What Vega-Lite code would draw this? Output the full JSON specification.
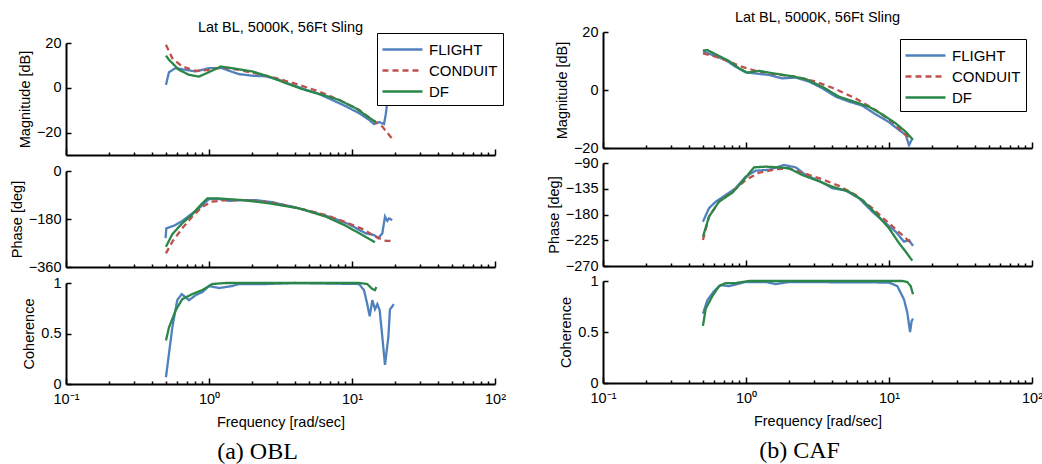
{
"$schema":"https://vega.github.io/schema/vega-lite/v6.json",
"autosize":{"type":"pad"},
"padding":{"left":9,"top":0,"right":0,"bottom":0},
"background":"white",
"config":{
 "view":{"stroke":null},
 "font":"Liberation Sans",
 "axis":{"domainColor":"black","domainWidth":2,"tickColor":"black","tickWidth":1.5,"grid":false,"labelFont":"Liberation Sans","labelFontSize":14.5,"labelColor":"black","titleFont":"Liberation Sans","titleFontSize":14.5,"titleFontWeight":"normal","titleColor":"black","labelPadding":4,"titlePadding":6,"labelFlush":false,"labelOverlap":false},
 "axisY":{"tickSize":-5,"labelPadding":10,"titlePadding":4},
 "line":{"strokeWidth":2.3},
 "legend":{"orient":"none","title":null,"symbolType":"M-2,0H2","symbolSize":400,"symbolOffset":9,"symbolStrokeWidth":2.5,"labelFontSize":15,"labelFont":"Liberation Sans","labelColor":"black","labelOffset":15,"padding":5,"rowPadding":1,"strokeColor":"black","fillColor":"white"}
},
"datasets":{
"am":[
{"s":"FLIGHT","f":0.5,"v":1.3},{"s":"FLIGHT","f":0.525,"v":7.0},{"s":"FLIGHT","f":0.585,"v":8.8},{"s":"FLIGHT","f":0.687,"v":8.0},{"s":"FLIGHT","f":0.807,"v":7.3},{"s":"FLIGHT","f":1.0,"v":8.8},{"s":"FLIGHT","f":1.233,"v":8.8},{"s":"FLIGHT","f":1.38,"v":7.6},{"s":"FLIGHT","f":1.621,"v":6.1},{"s":"FLIGHT","f":2.0,"v":5.4},{"s":"FLIGHT","f":2.504,"v":5.1},{"s":"FLIGHT","f":3.087,"v":3.6},{"s":"FLIGHT","f":3.806,"v":1.3},{"s":"FLIGHT","f":4.77,"v":-0.9},{"s":"FLIGHT","f":5.88,"v":-2.8},{"s":"FLIGHT","f":7.25,"v":-5.4},{"s":"FLIGHT","f":9.08,"v":-8.3},{"s":"FLIGHT","f":11.19,"v":-11.3},{"s":"FLIGHT","f":13.15,"v":-14.3},{"s":"FLIGHT","f":14.25,"v":-16.2},{"s":"FLIGHT","f":15.45,"v":-15.3},{"s":"FLIGHT","f":16.74,"v":-16.2},{"s":"FLIGHT","f":17.21,"v":-12},{"s":"FLIGHT","f":17.66,"v":-6.1},{"s":"FLIGHT","f":18.74,"v":2},
{"s":"CONDUIT","f":0.5,"v":19.2},{"s":"CONDUIT","f":0.554,"v":13.2},{"s":"CONDUIT","f":0.65,"v":9.5},{"s":"CONDUIT","f":0.807,"v":7.6},{"s":"CONDUIT","f":1.0,"v":8.0},{"s":"CONDUIT","f":1.233,"v":9.1},{"s":"CONDUIT","f":1.621,"v":8.0},{"s":"CONDUIT","f":2.237,"v":6.1},{"s":"CONDUIT","f":3.087,"v":4.0},{"s":"CONDUIT","f":4.26,"v":1.3},{"s":"CONDUIT","f":5.88,"v":-1.6},{"s":"CONDUIT","f":8.11,"v":-5.4},{"s":"CONDUIT","f":11.19,"v":-9.8},{"s":"CONDUIT","f":13.87,"v":-14.3},{"s":"CONDUIT","f":16.29,"v":-17.3},{"s":"CONDUIT","f":19.67,"v":-23.7},
{"s":"DF","f":0.5,"v":14.4},{"s":"DF","f":0.525,"v":12.5},{"s":"DF","f":0.617,"v":8.0},{"s":"DF","f":0.725,"v":5.8},{"s":"DF","f":0.851,"v":5.0},{"s":"DF","f":1.0,"v":7.0},{"s":"DF","f":1.207,"v":9.5},{"s":"DF","f":1.537,"v":8.5},{"s":"DF","f":2.01,"v":7.3},{"s":"DF","f":2.628,"v":5.0},{"s":"DF","f":3.44,"v":2.1},{"s":"DF","f":4.49,"v":-0.6},{"s":"DF","f":6.2,"v":-3.1},{"s":"DF","f":8.11,"v":-5.4},{"s":"DF","f":10.61,"v":-9.1},{"s":"DF","f":13.15,"v":-13.3},{"s":"DF","f":14.64,"v":-15.3}
],
"ap":[
{"s":"FLIGHT","f":0.497,"v":-252},{"s":"FLIGHT","f":0.503,"v":-215},{"s":"FLIGHT","f":0.569,"v":-205},{"s":"FLIGHT","f":0.65,"v":-187.5},{"s":"FLIGHT","f":0.764,"v":-159},{"s":"FLIGHT","f":0.875,"v":-134},{"s":"FLIGHT","f":1.0,"v":-105},{"s":"FLIGHT","f":1.175,"v":-105},{"s":"FLIGHT","f":1.38,"v":-112},{"s":"FLIGHT","f":1.71,"v":-109},{"s":"FLIGHT","f":2.121,"v":-109},{"s":"FLIGHT","f":2.772,"v":-117},{"s":"FLIGHT","f":3.83,"v":-134},{"s":"FLIGHT","f":5.28,"v":-153},{"s":"FLIGHT","f":7.28,"v":-175},{"s":"FLIGHT","f":9.53,"v":-200},{"s":"FLIGHT","f":12.47,"v":-234},{"s":"FLIGHT","f":14.25,"v":-240},{"s":"FLIGHT","f":15.27,"v":-252},{"s":"FLIGHT","f":16.29,"v":-234},{"s":"FLIGHT","f":17.01,"v":-171},{"s":"FLIGHT","f":17.66,"v":-187},{"s":"FLIGHT","f":18.15,"v":-178},{"s":"FLIGHT","f":19.13,"v":-184},
{"s":"CONDUIT","f":0.5,"v":-309},{"s":"CONDUIT","f":0.554,"v":-265},{"s":"CONDUIT","f":0.65,"v":-215},{"s":"CONDUIT","f":0.764,"v":-171},{"s":"CONDUIT","f":0.898,"v":-134},{"s":"CONDUIT","f":1.055,"v":-115},{"s":"CONDUIT","f":1.309,"v":-109},{"s":"CONDUIT","f":1.805,"v":-109},{"s":"CONDUIT","f":2.628,"v":-117},{"s":"CONDUIT","f":4.26,"v":-140},{"s":"CONDUIT","f":6.55,"v":-165},{"s":"CONDUIT","f":9.03,"v":-192},{"s":"CONDUIT","f":11.8,"v":-217},{"s":"CONDUIT","f":14.64,"v":-246},{"s":"CONDUIT","f":17.21,"v":-262},{"s":"CONDUIT","f":19.67,"v":-262},
{"s":"DF","f":0.5,"v":-284},{"s":"DF","f":0.554,"v":-237},{"s":"DF","f":0.65,"v":-196},{"s":"DF","f":0.764,"v":-163},{"s":"DF","f":0.875,"v":-127.5},{"s":"DF","f":0.973,"v":-103},{"s":"DF","f":1.175,"v":-103},{"s":"DF","f":1.71,"v":-109},{"s":"DF","f":2.628,"v":-121},{"s":"DF","f":4.26,"v":-140},{"s":"DF","f":6.55,"v":-171},{"s":"DF","f":9.03,"v":-205},{"s":"DF","f":11.8,"v":-240},{"s":"DF","f":14.48,"v":-267}
],
"ac":[
{"s":"FLIGHT","f":0.5,"v":0.067},{"s":"FLIGHT","f":0.554,"v":0.56},{"s":"FLIGHT","f":0.6,"v":0.83},{"s":"FLIGHT","f":0.644,"v":0.89},{"s":"FLIGHT","f":0.725,"v":0.83},{"s":"FLIGHT","f":0.807,"v":0.88},{"s":"FLIGHT","f":0.898,"v":0.91},{"s":"FLIGHT","f":1.0,"v":0.97},{"s":"FLIGHT","f":1.175,"v":0.95},{"s":"FLIGHT","f":1.455,"v":0.97},{"s":"FLIGHT","f":1.62,"v":0.99},{"s":"FLIGHT","f":2.5,"v":0.99},{"s":"FLIGHT","f":4.0,"v":1.0},{"s":"FLIGHT","f":11.19,"v":0.99},{"s":"FLIGHT","f":12.13,"v":0.93},{"s":"FLIGHT","f":12.79,"v":0.79},{"s":"FLIGHT","f":13.3,"v":0.67},{"s":"FLIGHT","f":13.87,"v":0.83},{"s":"FLIGHT","f":14.48,"v":0.74},{"s":"FLIGHT","f":15.03,"v":0.79},{"s":"FLIGHT","f":15.62,"v":0.73},{"s":"FLIGHT","f":16.13,"v":0.53},{"s":"FLIGHT","f":17.01,"v":0.19},{"s":"FLIGHT","f":17.94,"v":0.46},{"s":"FLIGHT","f":18.44,"v":0.74},{"s":"FLIGHT","f":18.95,"v":0.76},{"s":"FLIGHT","f":19.57,"v":0.79},
{"s":"DF","f":0.5,"v":0.43},{"s":"DF","f":0.525,"v":0.56},{"s":"DF","f":0.585,"v":0.73},{"s":"DF","f":0.65,"v":0.84},{"s":"DF","f":0.764,"v":0.89},{"s":"DF","f":0.898,"v":0.93},{"s":"DF","f":1.055,"v":0.99},{"s":"DF","f":1.3,"v":1.0},{"s":"DF","f":11.19,"v":1.0},{"s":"DF","f":12.79,"v":0.99},{"s":"DF","f":13.87,"v":0.94},{"s":"DF","f":14.48,"v":0.93},{"s":"DF","f":14.79,"v":0.96}
],
"bm":[
{"s":"FLIGHT","f":0.5,"v":13.4},{"s":"FLIGHT","f":0.581,"v":12.1},{"s":"FLIGHT","f":0.721,"v":10.3},{"s":"FLIGHT","f":0.847,"v":8.0},{"s":"FLIGHT","f":0.995,"v":6.1},{"s":"FLIGHT","f":1.169,"v":5.7},{"s":"FLIGHT","f":1.448,"v":5.2},{"s":"FLIGHT","f":1.794,"v":4.0},{"s":"FLIGHT","f":2.227,"v":4.3},{"s":"FLIGHT","f":2.758,"v":2.9},{"s":"FLIGHT","f":3.417,"v":0.6},{"s":"FLIGHT","f":4.24,"v":-2.3},{"s":"FLIGHT","f":5.252,"v":-4.0},{"s":"FLIGHT","f":6.506,"v":-5.4},{"s":"FLIGHT","f":8.072,"v":-8.4},{"s":"FLIGHT","f":10.0,"v":-11.1},{"s":"FLIGHT","f":11.75,"v":-13.8},{"s":"FLIGHT","f":13.09,"v":-15.5},{"s":"FLIGHT","f":13.8,"v":-19.0},{"s":"FLIGHT","f":14.41,"v":-17.2},
{"s":"CONDUIT","f":0.5,"v":12.6},{"s":"CONDUIT","f":0.614,"v":11.5},{"s":"CONDUIT","f":0.761,"v":9.8},{"s":"CONDUIT","f":0.942,"v":8.0},{"s":"CONDUIT","f":1.169,"v":6.6},{"s":"CONDUIT","f":1.613,"v":5.4},{"s":"CONDUIT","f":2.227,"v":4.6},{"s":"CONDUIT","f":3.072,"v":2.9},{"s":"CONDUIT","f":4.24,"v":0.3},{"s":"CONDUIT","f":5.849,"v":-2.9},{"s":"CONDUIT","f":8.072,"v":-6.9},{"s":"CONDUIT","f":10.55,"v":-11.1},{"s":"CONDUIT","f":13.09,"v":-15.5},{"s":"CONDUIT","f":14.41,"v":-16.9},
{"s":"DF","f":0.5,"v":13.6},{"s":"DF","f":0.536,"v":13.8},{"s":"DF","f":0.614,"v":12.3},{"s":"DF","f":0.761,"v":10.0},{"s":"DF","f":0.893,"v":7.5},{"s":"DF","f":1.021,"v":6.0},{"s":"DF","f":1.233,"v":6.6},{"s":"DF","f":1.527,"v":5.8},{"s":"DF","f":1.999,"v":4.9},{"s":"DF","f":2.616,"v":3.8},{"s":"DF","f":3.417,"v":1.1},{"s":"DF","f":4.471,"v":-2.3},{"s":"DF","f":5.849,"v":-4.2},{"s":"DF","f":7.246,"v":-5.8},{"s":"DF","f":8.977,"v":-8.4},{"s":"DF","f":11.14,"v":-11.5},{"s":"DF","f":13.09,"v":-14.4},{"s":"DF","f":14.72,"v":-17.2}
],
"bp":[
{"s":"FLIGHT","f":0.5,"v":-192.6},{"s":"FLIGHT","f":0.551,"v":-169},{"s":"FLIGHT","f":0.614,"v":-157.6},{"s":"FLIGHT","f":0.721,"v":-146},{"s":"FLIGHT","f":0.847,"v":-134},{"s":"FLIGHT","f":0.995,"v":-114},{"s":"FLIGHT","f":1.169,"v":-103.4},{"s":"FLIGHT","f":1.448,"v":-102},{"s":"FLIGHT","f":1.844,"v":-93.5},{"s":"FLIGHT","f":2.227,"v":-97.6},{"s":"FLIGHT","f":2.616,"v":-111},{"s":"FLIGHT","f":3.24,"v":-121},{"s":"FLIGHT","f":4.013,"v":-134},{"s":"FLIGHT","f":4.98,"v":-138},{"s":"FLIGHT","f":6.169,"v":-151.7},{"s":"FLIGHT","f":7.642,"v":-175},{"s":"FLIGHT","f":9.482,"v":-195.4},{"s":"FLIGHT","f":11.14,"v":-210},{"s":"FLIGHT","f":12.73,"v":-227.5},{"s":"FLIGHT","f":13.8,"v":-224.6},{"s":"FLIGHT","f":14.72,"v":-235},
{"s":"CONDUIT","f":0.5,"v":-224.6},{"s":"CONDUIT","f":0.551,"v":-183.8},{"s":"CONDUIT","f":0.647,"v":-157.6},{"s":"CONDUIT","f":0.802,"v":-140},{"s":"CONDUIT","f":0.995,"v":-119.7},{"s":"CONDUIT","f":1.233,"v":-107},{"s":"CONDUIT","f":1.613,"v":-101},{"s":"CONDUIT","f":1.999,"v":-99.3},{"s":"CONDUIT","f":2.616,"v":-109},{"s":"CONDUIT","f":3.417,"v":-118.5},{"s":"CONDUIT","f":4.471,"v":-130},{"s":"CONDUIT","f":5.849,"v":-146},{"s":"CONDUIT","f":7.642,"v":-169},{"s":"CONDUIT","f":10.0,"v":-195.4},{"s":"CONDUIT","f":12.39,"v":-215.8},{"s":"CONDUIT","f":14.72,"v":-233.3},
{"s":"DF","f":0.5,"v":-218.8},{"s":"DF","f":0.551,"v":-183.8},{"s":"DF","f":0.647,"v":-157.6},{"s":"DF","f":0.802,"v":-142},{"s":"DF","f":0.942,"v":-122.7},{"s":"DF","f":1.137,"v":-97.6},{"s":"DF","f":1.373,"v":-96.4},{"s":"DF","f":1.701,"v":-97.6},{"s":"DF","f":1.999,"v":-99.3},{"s":"DF","f":2.476,"v":-111},{"s":"DF","f":3.072,"v":-119.7},{"s":"DF","f":4.013,"v":-131.4},{"s":"DF","f":5.252,"v":-140},{"s":"DF","f":6.506,"v":-154.7},{"s":"DF","f":8.072,"v":-178},{"s":"DF","f":10.0,"v":-204},{"s":"DF","f":11.75,"v":-230},{"s":"DF","f":13.09,"v":-245},{"s":"DF","f":14.55,"v":-260.7}
],
"bc":[
{"s":"FLIGHT","f":0.5,"v":0.68},{"s":"FLIGHT","f":0.536,"v":0.81},{"s":"FLIGHT","f":0.597,"v":0.9},{"s":"FLIGHT","f":0.665,"v":0.96},{"s":"FLIGHT","f":0.761,"v":0.95},{"s":"FLIGHT","f":0.995,"v":0.99},{"s":"FLIGHT","f":1.373,"v":0.99},{"s":"FLIGHT","f":1.613,"v":0.97},{"s":"FLIGHT","f":1.999,"v":0.99},{"s":"FLIGHT","f":10.0,"v":0.985},{"s":"FLIGHT","f":11.43,"v":0.95},{"s":"FLIGHT","f":12.73,"v":0.82},{"s":"FLIGHT","f":13.43,"v":0.69},{"s":"FLIGHT","f":14.03,"v":0.5},{"s":"FLIGHT","f":14.41,"v":0.61},{"s":"FLIGHT","f":14.72,"v":0.63},
{"s":"DF","f":0.5,"v":0.56},{"s":"DF","f":0.523,"v":0.73},{"s":"DF","f":0.581,"v":0.85},{"s":"DF","f":0.647,"v":0.95},{"s":"DF","f":0.721,"v":0.98},{"s":"DF","f":0.847,"v":0.98},{"s":"DF","f":1.049,"v":1.0},{"s":"DF","f":12.39,"v":1.0},{"s":"DF","f":13.43,"v":0.99},{"s":"DF","f":14.18,"v":0.95},{"s":"DF","f":14.72,"v":0.87}
]
},
"hconcat":[
{"vconcat":[
 {"width":429,"height":27,"data":{"values":[{"t":""}]},"mark":"text","encoding":{"text":{"field":"t"}},
  "title":{"text":"Lat BL, 5000K, 56Ft Sling","orient":"bottom","fontSize":14.5,"fontWeight":"normal","font":"Liberation Sans","color":"black","offset":-6}},
 {"width":429,"height":112,"data":{"name":"am"},
  "mark":{"type":"line"},
  "encoding":{
   "x":{"field":"f","type":"quantitative","scale":{"type":"log","domain":[0.1,100],"nice":false},"axis":{"values":[0.1,0.2,0.3,0.4,0.5,0.6,0.7,0.8,0.9,1,2,3,4,5,6,7,8,9,10,20,30,40,50,60,70,80,90,100],"labels":false,"title":null,"tickSize":{"condition":{"test":"datum.value==1||datum.value==10||datum.value==0.1||datum.value==100","value":-6},"value":-3}}},
   "y":{"field":"v","type":"quantitative","scale":{"domain":[-30,20],"nice":false,"zero":false},"axis":{"values":[-20,0,20],"title":"Magnitude [dB]"}},
   "color":{"field":"s","type":"nominal","scale":{"domain":["FLIGHT","CONDUIT","DF"],"range":["#4f81bd","#c0504d","#2a8748"]},"legend":{"legendX":311,"legendY":-10,"encode":{"legend":{"update":{"strokeWidth":{"value":2.5}}}}}},
   "strokeDash":{"field":"s","type":"nominal","scale":{"domain":["FLIGHT","CONDUIT","DF"],"range":[[1,0],[6,4],[1,0]]},"legend":{"legendX":311,"legendY":-10,"encode":{"legend":{"update":{"strokeWidth":{"value":2.5}}}}}}
  }},
 {"width":429,"height":96,"data":{"name":"ap"},
  "mark":{"type":"line"},
  "encoding":{
   "x":{"field":"f","type":"quantitative","scale":{"type":"log","domain":[0.1,100],"nice":false},"axis":{"values":[0.1,0.2,0.3,0.4,0.5,0.6,0.7,0.8,0.9,1,2,3,4,5,6,7,8,9,10,20,30,40,50,60,70,80,90,100],"labels":false,"title":null,"tickSize":{"condition":{"test":"datum.value==1||datum.value==10||datum.value==0.1||datum.value==100","value":-6},"value":-3}}},
   "y":{"field":"v","type":"quantitative","scale":{"domain":[-360,0],"nice":false,"zero":false},"axis":{"values":[-360,-180,0],"title":"Phase [deg]"}},
   "color":{"field":"s","type":"nominal","scale":{"domain":["FLIGHT","CONDUIT","DF"],"range":["#4f81bd","#c0504d","#2a8748"]},"legend":null},
   "strokeDash":{"field":"s","type":"nominal","scale":{"domain":["FLIGHT","CONDUIT","DF"],"range":[[1,0],[6,4],[1,0]]},"legend":null}
  }},
 {"width":429,"height":101,"data":{"name":"ac"},
  "title":{"text":"(a) OBL","orient":"bottom","font":"Liberation Serif","fontSize":24,"fontWeight":"normal","color":"black","offset":11,"dx":-23},
  "mark":{"type":"line"},
  "encoding":{
   "x":{"field":"f","type":"quantitative","scale":{"type":"log","domain":[0.1,100],"nice":false},"axis":{"values":[0.1,0.2,0.3,0.4,0.5,0.6,0.7,0.8,0.9,1,2,3,4,5,6,7,8,9,10,20,30,40,50,60,70,80,90,100],"labelExpr":"datum.value==0.1?'10⁻¹':datum.value==1?'10⁰':datum.value==10?'10¹':datum.value==100?'10²':''","labelPadding":14,"title":"Frequency [rad/sec]","titlePadding":7,"tickSize":{"condition":{"test":"datum.value==1||datum.value==10||datum.value==0.1||datum.value==100","value":-6},"value":-3}}},
   "y":{"field":"v","type":"quantitative","scale":{"domain":[0,1],"nice":false,"zero":false},"axis":{"values":[0,0.5,1],"format":"~g","title":"Coherence"}},
   "color":{"field":"s","type":"nominal","scale":{"domain":["FLIGHT","CONDUIT","DF"],"range":["#4f81bd","#c0504d","#2a8748"]},"legend":null},
   "strokeDash":{"field":"s","type":"nominal","scale":{"domain":["FLIGHT","CONDUIT","DF"],"range":[[1,0],[6,4],[1,0]]},"legend":null}
  }}
 ],
 "spacing":16,"bounds":"flush",
 "resolve":{"scale":{"x":"independent","y":"independent"},"axis":{"x":"independent","y":"independent"},"legend":{"color":"independent","strokeDash":"independent"}}
},
{"vconcat":[
 {"width":429,"height":17,"data":{"values":[{"t":""}]},"mark":"text","encoding":{"text":{"field":"t"}},
  "title":{"text":"Lat BL, 5000K, 56Ft Sling","orient":"bottom","fontSize":14.5,"fontWeight":"normal","font":"Liberation Sans","color":"black","offset":-6}},
 {"width":429,"height":116,"data":{"name":"bm"},
  "mark":{"type":"line"},
  "encoding":{
   "x":{"field":"f","type":"quantitative","scale":{"type":"log","domain":[0.1,100],"nice":false},"axis":{"values":[0.1,0.2,0.3,0.4,0.5,0.6,0.7,0.8,0.9,1,2,3,4,5,6,7,8,9,10,20,30,40,50,60,70,80,90,100],"labels":false,"title":null,"tickSize":{"condition":{"test":"datum.value==1||datum.value==10||datum.value==0.1||datum.value==100","value":-6},"value":-3}}},
   "y":{"field":"v","type":"quantitative","scale":{"domain":[-20,20],"nice":false,"zero":false},"axis":{"values":[-20,0,20],"title":"Magnitude [dB]"}},
   "color":{"field":"s","type":"nominal","scale":{"domain":["FLIGHT","CONDUIT","DF"],"range":["#4f81bd","#c0504d","#2a8748"]},"legend":{"legendX":297,"legendY":7,"encode":{"legend":{"update":{"strokeWidth":{"value":2.5}}}}}},
   "strokeDash":{"field":"s","type":"nominal","scale":{"domain":["FLIGHT","CONDUIT","DF"],"range":[[1,0],[6,4],[1,0]]},"legend":{"legendX":297,"legendY":7,"encode":{"legend":{"update":{"strokeWidth":{"value":2.5}}}}}}
  }},
 {"width":429,"height":103,"data":{"name":"bp"},
  "mark":{"type":"line"},
  "encoding":{
   "x":{"field":"f","type":"quantitative","scale":{"type":"log","domain":[0.1,100],"nice":false},"axis":{"values":[0.1,0.2,0.3,0.4,0.5,0.6,0.7,0.8,0.9,1,2,3,4,5,6,7,8,9,10,20,30,40,50,60,70,80,90,100],"labels":false,"title":null,"tickSize":{"condition":{"test":"datum.value==1||datum.value==10||datum.value==0.1||datum.value==100","value":-6},"value":-3}}},
   "y":{"field":"v","type":"quantitative","scale":{"domain":[-270,-90],"nice":false,"zero":false},"axis":{"values":[-270,-225,-180,-135,-90],"title":"Phase [deg]"}},
   "color":{"field":"s","type":"nominal","scale":{"domain":["FLIGHT","CONDUIT","DF"],"range":["#4f81bd","#c0504d","#2a8748"]},"legend":null},
   "strokeDash":{"field":"s","type":"nominal","scale":{"domain":["FLIGHT","CONDUIT","DF"],"range":[[1,0],[6,4],[1,0]]},"legend":null}
  }},
 {"width":429,"height":102,"data":{"name":"bc"},
  "title":{"text":"(b) CAF","orient":"bottom","font":"Liberation Serif","fontSize":24,"fontWeight":"normal","color":"black","offset":11,"dx":-18},
  "mark":{"type":"line"},
  "encoding":{
   "x":{"field":"f","type":"quantitative","scale":{"type":"log","domain":[0.1,100],"nice":false},"axis":{"values":[0.1,0.2,0.3,0.4,0.5,0.6,0.7,0.8,0.9,1,2,3,4,5,6,7,8,9,10,20,30,40,50,60,70,80,90,100],"labelExpr":"datum.value==0.1?'10⁻¹':datum.value==1?'10⁰':datum.value==10?'10¹':datum.value==100?'10²':''","labelPadding":14,"title":"Frequency [rad/sec]","titlePadding":7,"tickSize":{"condition":{"test":"datum.value==1||datum.value==10||datum.value==0.1||datum.value==100","value":-6},"value":-3}}},
   "y":{"field":"v","type":"quantitative","scale":{"domain":[0,1],"nice":false,"zero":false},"axis":{"values":[0,0.5,1],"format":"~g","title":"Coherence"}},
   "color":{"field":"s","type":"nominal","scale":{"domain":["FLIGHT","CONDUIT","DF"],"range":["#4f81bd","#c0504d","#2a8748"]},"legend":null},
   "strokeDash":{"field":"s","type":"nominal","scale":{"domain":["FLIGHT","CONDUIT","DF"],"range":[[1,0],[6,4],[1,0]]},"legend":null}
  }}
 ],
 "spacing":15,"bounds":"flush",
 "resolve":{"scale":{"x":"independent","y":"independent"},"axis":{"x":"independent","y":"independent"},"legend":{"color":"independent","strokeDash":"independent"}}
}
],
"spacing":40,
"resolve":{"scale":{"x":"independent","y":"independent"},"axis":{"x":"independent","y":"independent"},"legend":{"color":"independent","strokeDash":"independent"}}
}
